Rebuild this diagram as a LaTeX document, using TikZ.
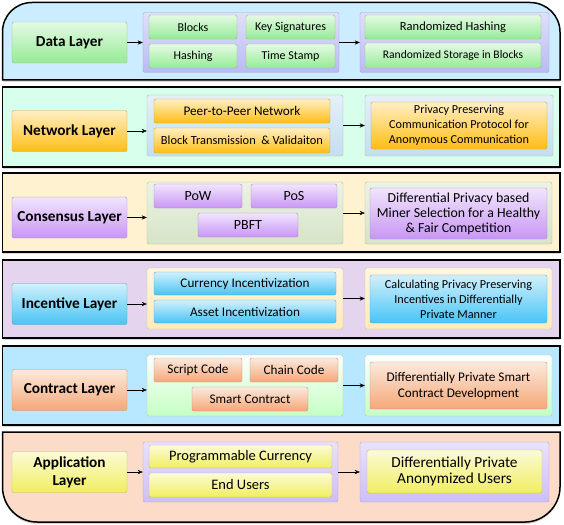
\documentclass[tikz,border=0pt]{standalone}
\usepackage{fontspec}
\setmainfont{Carlito}
\usetikzlibrary{arrows.meta,shadows}
\definecolor{sky}{RGB}{204,236,255}
\definecolor{mintband}{RGB}{216,255,236}
\definecolor{wheat}{RGB}{255,242,208}
\definecolor{mauve}{RGB}{228,212,238}
\definecolor{glacier}{RGB}{184,232,255}
\definecolor{peach}{RGB}{252,220,200}
\definecolor{leaf}{RGB}{150,235,150}
\definecolor{gold}{RGB}{255,190,20}
\definecolor{orchid}{RGB}{200,150,245}
\definecolor{azure}{RGB}{72,196,244}
\definecolor{apricot}{RGB}{244,168,120}
\definecolor{lemon}{RGB}{240,238,96}
\definecolor{lilac}{RGB}{186,186,244}
\definecolor{frost}{RGB}{196,222,240}
\definecolor{sage}{RGB}{214,228,198}
\definecolor{cream}{RGB}{255,234,186}
\definecolor{mint}{RGB}{196,255,196}
\definecolor{heather}{RGB}{206,190,248}
\tikzset{
  >={Stealth[length=1.8mm,width=1.5mm]},
  fs/.style 2 args={font=\fontsize{#1}{#2}\selectfont},
  band/.style={draw=black,line width=1.5pt,fill=#1,
    drop shadow={opacity=0.3,shadow xshift=0pt,shadow yshift=-2pt}},
  layer/.style={draw=#1!55!gray,rounded corners=2pt,top color=#1!25!white,bottom color=#1,
    minimum width=115pt,minimum height=41pt,align=center,
    font=\fontsize{15.3}{18}\selectfont\bfseries},
  tray/.style={draw=#1!60!gray,rounded corners=2pt,top color=#1!45!white,bottom color=#1,inner sep=0pt},
  chip/.style={draw=#1!55!gray,rounded corners=2pt,top color=#1!25!white,bottom color=#1,
    inner sep=0pt,align=center,fs={12}{14}},
  note/.style={chip=#1,fs={12.2}{15}},
  flow/.style={->,draw=black,thin},
}
\begin{document}
\begin{tikzpicture}[x=1pt,y=-1pt]
\useasboundingbox (0,0) rectangle (564,524);
% bands
\draw[band=sky] (2.5,80) -- (2.5,32) .. controls (2.5,15.5) and (15.5,2.5) .. (32,2.5)
  -- (530,2.5) .. controls (546.5,2.5) and (560,15.5) .. (560,32) -- (560,80) -- cycle;
\foreach \ya/\yb/\c in {87/167/mintband,173/252/wheat,260/338/mauve,346/425/glacier}
  \draw[band=\c] (2.5,\ya) rectangle (560,\yb);
\draw[band=peach] (2.5,432) -- (560,432) -- (560,487) .. controls (560,506) and (544,522) .. (525,522)
  -- (37,522) .. controls (18,522) and (2.5,506) .. (2.5,487) -- cycle;

% data layer
\node[layer=leaf] (dataL) at (69.5,42.5) {Data Layer};
\node[tray=lilac,minimum width=196,minimum height=60] (dataA) at (241,42.5) {};
\node[chip=leaf,minimum width=88,minimum height=24] (blocks) at (193,27) {Blocks};
\node[chip=leaf,minimum width=89,minimum height=24] (keysig) at (290.5,27) {Key Signatures};
\node[chip=leaf,minimum width=88,minimum height=24] (hashing) at (193,56) {Hashing};
\node[chip=leaf,minimum width=89,minimum height=24] (stamp) at (290.5,56) {Time Stamp};
\node[tray=lilac,minimum width=189,minimum height=60] (dataB) at (454.5,42.5) {};
\node[chip=leaf,minimum width=176,minimum height=24,fs={12.5}{14}] (rhash) at (453,27) {Randomized Hashing};
\node[chip=leaf,minimum width=176,minimum height=25,fs={11.6}{14}] (rstore) at (453,55.5) {Randomized Storage in Blocks};
\draw[flow] (dataL.east) -- (dataL.east -| dataA.west);
\draw[flow] (dataA.east) -- (dataB.west);

% network layer
\node[layer=gold] (netL) at (69.5,131) {Network Layer};
\node[tray=frost,minimum width=196,minimum height=61] (netA) at (245,125.5) {};
\node[chip=gold,minimum width=176,minimum height=24,fs={13.2}{15}] (p2p) at (242,111) {Peer-to-Peer Network};
\node[chip=gold,minimum width=176,minimum height=25,fs={12.4}{14}] (btv) at (242,140.5) {Block Transmission \ \& Validaiton};
\node[tray=frost,minimum width=188,minimum height=61] (netB) at (459,125.5) {};
\node[note=gold,minimum width=176,minimum height=47] (netC) at (459,125.5) {Privacy Preserving\\Communication Protocol for\\Anonymous Communication};
\draw[flow] (netL.east) -- (netL.east -| netA.west);
\draw[flow] (netA.east) -- (netB.west);

% consensus layer
\node[layer=orchid] (conL) at (69.5,217.5) {Consensus Layer};
\node[tray=sage,minimum width=196,minimum height=62] (conA) at (245,213) {};
\node[chip=orchid,minimum width=88,minimum height=24,fs={14}{16}] (pow) at (198,196) {PoW};
\node[chip=orchid,minimum width=86,minimum height=24,fs={14}{16}] (pos) at (294,196) {PoS};
\node[chip=orchid,minimum width=100,minimum height=24,fs={14}{16}] (pbft) at (248,225) {PBFT};
\node[tray=sage,minimum width=187,minimum height=62] (conB) at (458.5,213) {};
\node[note=orchid,minimum width=177,minimum height=51,fs={13.8}{15}] (conC) at (458.5,213.5) {Differential Privacy based\\Miner Selection for a Healthy\\\& Fair Competition};
\draw[flow] (conL.east) -- (conL.east -| conA.west);
\draw[flow] (conA.east) -- (conB.west);

% incentive layer
\node[layer=azure] (incL) at (69.5,304) {Incentive Layer};
\node[tray=cream,minimum width=196,minimum height=61] (incA) at (245,298.5) {};
\node[chip=azure,minimum width=182,minimum height=23,fs={13.2}{15}] (cur) at (245,283.5) {Currency Incentivization};
\node[chip=azure,minimum width=182,minimum height=23,fs={13.2}{15}] (asset) at (245,311.5) {Asset Incentivization};
\node[tray=cream,minimum width=187,minimum height=61] (incB) at (458.5,298.5) {};
\node[note=azure,minimum width=177,minimum height=48] (incC) at (458.5,299) {Calculating Privacy Preserving\\Incentives in Differentially\\Private Manner};
\draw[flow] (incL.east) -- (incL.east -| incA.west);
\draw[flow] (incA.east) -- (incB.west);

% contract layer
\node[layer=apricot] (ctrL) at (69.5,390) {Contract Layer};
\node[tray=mint,minimum width=196,minimum height=61,top color=white] (ctrA) at (245,385.5) {};
\node[chip=apricot,minimum width=88,minimum height=24,fs={13.2}{15}] (script) at (198,370) {Script Code};
\node[chip=apricot,minimum width=88,minimum height=24,fs={13.2}{15}] (chain) at (294,370) {Chain Code};
\node[chip=apricot,minimum width=116,minimum height=24,fs={13.2}{15}] (smart) at (250,399) {Smart Contract};
\node[tray=mint,minimum width=187,minimum height=61,top color=white] (ctrB) at (458.5,385.5) {};
\node[note=apricot,minimum width=177,minimum height=47,fs={13.2}{16}] (ctrC) at (458.5,385.5) {Differentially Private Smart\\Contract Development};
\draw[flow] (ctrL.east) -- (ctrL.east -| ctrA.west);
\draw[flow] (ctrA.east) -- (ctrB.west);

% application layer
\node[layer=lemon] (appL) at (69.5,472) {Application\\Layer};
\node[tray=heather,minimum width=195,minimum height=60] (appA) at (240.5,472) {};
\node[chip=lemon,minimum width=183,minimum height=23,fs={14.5}{16}] (prog) at (240.5,456.5) {Programmable Currency};
\node[chip=lemon,minimum width=183,minimum height=24,fs={14.5}{16}] (users) at (240.5,485) {End Users};
\node[tray=heather,minimum width=189,minimum height=60] (appB) at (454.5,472) {};
\node[note=lemon,minimum width=175,minimum height=43,fs={15.3}{16.5}] (appC) at (454.5,471.5) {Differentially Private\\Anonymized Users};
\draw[flow] (appL.east) -- (appL.east -| appA.west);
\draw[flow] (appA.east) -- (appB.west);
\end{tikzpicture}
\end{document}
